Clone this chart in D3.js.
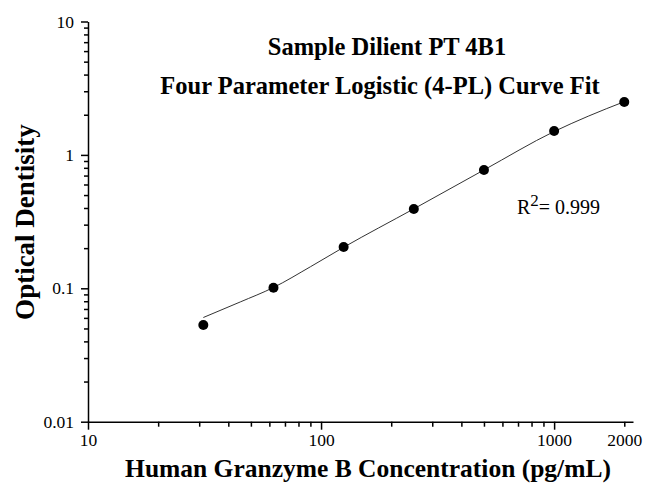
<!DOCTYPE html>
<html lang="en">
<head>
  <meta charset="UTF-8">
  <title>Granzyme B standard curve</title>
  <script src="https://d3js.org/d3.v7.min.js"></script>
  <style>
    body { margin: 0; background: #fff; }
    svg text { font-family: "Liberation Serif", "Times New Roman", serif; fill: #000; }
    .axis path, .axis line { stroke: #000; stroke-width: 1.5; }
    .axis text { font-size: 17.5px; }
  </style>
</head>
<body>
<svg width="645" height="492"></svg>
<script>
  // standards (pg/mL) and measured OD
  const conc = [31.25, 62.5, 125, 250, 500, 1000, 2000];
  const od = [0.053, 0.101, 0.204, 0.393, 0.771, 1.51, 2.49];

  // fitted 4-PL curve
  const fitConc = [31.25, 45, 62.5, 90, 125, 250, 500, 1000, 1400, 2000];
  const fitOd = [0.0604, 0.079, 0.1014, 0.145, 0.203, 0.394, 0.771, 1.497, 1.95, 2.505];

  const xTicks = [10, 20, 30, 40, 50, 60, 70, 80, 90, 100, 200, 300, 400, 500, 600, 700, 800, 900, 1000, 2000];
  const xLabels = [10, 100, 1000, 2000];
  const xMajor = [10, 100, 1000];
  const yTicks = [0.01, 0.02, 0.03, 0.04, 0.05, 0.06, 0.07, 0.08, 0.09,
                  0.1, 0.2, 0.3, 0.4, 0.5, 0.6, 0.7, 0.8, 0.9,
                  1, 2, 3, 4, 5, 6, 7, 8, 9, 10];
  const yMajor = [0.01, 0.1, 1, 10];

  let svg = d3.select("svg");

  let x = d3.scaleLog().domain([10, 2180]).range([88, 633]);
  let y = d3.scaleLog().domain([0.01, 10]).range([421.7, 21.5]);

  // x axis
  let gx = svg.append("g")
    .attr("class", "axis")
    .attr("transform", "translate(0,421.7)")
    .call(d3.axisBottom(x)
      .tickValues(xTicks)
      .tickSizeOuter(0)
      .tickFormat(d => xLabels.includes(d) ? String(d) : ""));
  gx.selectAll(".tick line").attr("y2", d => xMajor.includes(d) ? 8 : 5);
  gx.selectAll(".tick text").attr("y", 12);

  // y axis
  let gy = svg.append("g")
    .attr("class", "axis")
    .attr("transform", "translate(88,0)")
    .call(d3.axisLeft(y)
      .tickValues(yTicks)
      .tickSizeOuter(0)
      .tickFormat(d => yMajor.includes(d) ? String(d) : ""));
  gy.selectAll(".tick line").attr("x2", d => yMajor.includes(d) ? -7 : -4);
  gy.selectAll(".tick text").attr("x", -14);

  // fitted curve
  let line = d3.line()
    .x((d, i) => x(fitConc[i]))
    .y(d => y(d))
    .curve(d3.curveMonotoneX);

  svg.append("path")
    .datum(fitOd)
    .attr("d", line)
    .attr("fill", "none")
    .attr("stroke", "#333")
    .attr("stroke-width", 1);

  // points
  svg.selectAll("circle.pt")
    .data(od)
    .enter().append("circle")
    .attr("class", "pt")
    .attr("cx", (d, i) => x(conc[i]))
    .attr("cy", d => y(d))
    .attr("r", 5)
    .attr("fill", "#000");

  // titles
  svg.append("text")
    .attr("x", 387).attr("y", 55)
    .attr("text-anchor", "middle")
    .style("font-size", "24.5px").style("font-weight", "bold")
    .text("Sample Dilient PT 4B1");

  svg.append("text")
    .attr("x", 380).attr("y", 94)
    .attr("text-anchor", "middle")
    .style("font-size", "24.5px").style("font-weight", "bold")
    .text("Four Parameter Logistic (4-PL) Curve Fit");

  let r2 = svg.append("text")
    .attr("x", 517).attr("y", 214)
    .style("font-size", "20px");
  r2.append("tspan").text("R");
  r2.append("tspan").attr("dy", -8).style("font-size", "17px").text("2");
  r2.append("tspan").attr("dy", 8).text("= 0.999");

  // axis titles
  svg.append("text")
    .attr("x", 368).attr("y", 477)
    .attr("text-anchor", "middle")
    .style("font-size", "25.5px").style("font-weight", "bold")
    .text("Human Granzyme B Concentration (pg/mL)");

  svg.append("text")
    .attr("transform", "translate(34,222) rotate(-90)")
    .attr("text-anchor", "middle")
    .style("font-size", "27px").style("font-weight", "bold")
    .text("Optical Dentisity");
</script>
</body>
</html>
